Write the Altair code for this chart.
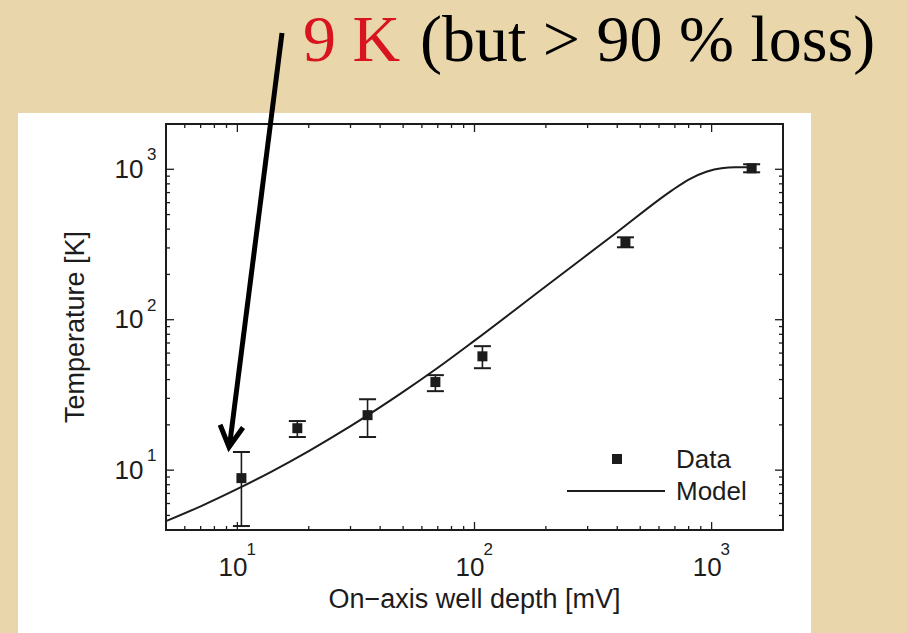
import altair as alt
import pandas as pd

# ---------------- data ----------------
depth_mV = [10.4, 17.9, 35.4, 68.4, 108, 433, 1475]
temp_K = [8.85, 19.0, 23.2, 38.5, 57.1, 327, 1015]
temp_lo = [4.25, 16.6, 16.6, 33.5, 47.6, 303, 955]
temp_hi = [13.2, 21.2, 29.6, 42.8, 66.7, 353, 1080]

model_depth = [5, 7, 10, 14, 20, 30, 50, 70, 100, 200, 400, 676, 800, 950, 1100, 1260, 1500]
model_temp = [4.58, 5.75, 7.5, 9.83, 13.4, 19.6, 33.1, 47.9, 72.6, 167, 383, 719, 855, 964,
              1017, 1030, 1030]

major_ticks = [10, 100, 1000]
exponents = ["1", "2", "3"]
x_minor = [6, 7, 8, 9, 20, 30, 40, 50, 60, 70, 80, 90,
           200, 300, 400, 500, 600, 700, 800, 900]
y_minor = [5, 6, 7, 8, 9, 20, 30, 40, 50, 60, 70, 80, 90,
           200, 300, 400, 500, 600, 700, 800, 900]

legend_labels = ["Data", "Model"]
title_red = "9 K"
title_black = "(but > 90 % loss)"
x_title = "On\u2212axis well depth [mV]"
y_title = "Temperature [K]"

# ---------------- styling ----------------
W, H = 617, 406
FONT = "Liberation Sans"
SERIF = "Liberation Serif"
INK = "#1c1c1c"
PARCHMENT = "#e9d7ab"

xs = alt.Scale(type="log", domain=[5, 2000], nice=False)
ys = alt.Scale(type="log", domain=[4, 2000], nice=False)

xaxis = alt.Axis(values=major_ticks, labelExpr="'10'", ticks=False, tickSize=0,
                 domain=False, grid=False, labelFont=FONT, labelFontSize=26,
                 labelColor=INK, labelPadding=24, labelOffset=-5, title=None,
                 zindex=2)
yaxis = alt.Axis(values=major_ticks, labelExpr="'10'", ticks=False, tickSize=0,
                 domain=False, grid=False, labelFont=FONT, labelFontSize=26,
                 labelColor=INK, labelPadding=23, title=None, zindex=2)


def X(f):
    return alt.X(f, type="quantitative", scale=xs, axis=xaxis)


def Y(f):
    return alt.Y(f, type="quantitative", scale=ys, axis=yaxis)


pts = pd.DataFrame({"depth": depth_mV, "temp": temp_K, "lo": temp_lo, "hi": temp_hi})
model = pd.DataFrame({"depth": model_depth, "temp": model_temp})
one = pd.DataFrame({"k": [0]})
maj = pd.DataFrame({"v": major_ticks, "e": exponents})
xmin_df = pd.DataFrame({"v": x_minor})
ymin_df = pd.DataFrame({"v": y_minor})

layers = []

# white panel behind the figure
layers.append(alt.Chart(one).mark_rect(color="white").encode(
    x=alt.value(-148), x2=alt.value(645), y=alt.value(-11), y2=alt.value(H + 110)))


# inward ticks on all four sides
def xticks(df, L):
    b = alt.Chart(df).mark_rule(color=INK, strokeWidth=1.3).encode(
        x=X("v"), y=alt.value(H), y2=alt.value(H - L))
    t = alt.Chart(df).mark_rule(color=INK, strokeWidth=1.3).encode(
        x=X("v"), y=alt.value(0), y2=alt.value(L))
    return [b, t]


def yticks(df, L):
    l = alt.Chart(df).mark_rule(color=INK, strokeWidth=1.3).encode(
        y=Y("v"), x=alt.value(0), x2=alt.value(L))
    r = alt.Chart(df).mark_rule(color=INK, strokeWidth=1.3).encode(
        y=Y("v"), x=alt.value(W), x2=alt.value(W - L))
    return [l, r]


layers += xticks(maj, 8) + xticks(xmin_df, 4) + yticks(maj, 8) + yticks(ymin_df, 4)

# exponents of the tick labels
layers.append(alt.Chart(maj).mark_text(align="left", baseline="top", dx=9, font=FONT,
                                       fontSize=17, color=INK).encode(
    x=X("v"), y=alt.value(H + 12), text="e:N"))
layers.append(alt.Chart(maj).mark_text(align="left", baseline="top", dy=-22, font=FONT,
                                       fontSize=17, color=INK).encode(
    y=Y("v"), x=alt.value(-19), text="e:N"))

# axis titles
layers.append(alt.Chart(one).mark_text(text=x_title, font=FONT, fontSize=27, color=INK,
                                       align="center", baseline="middle").encode(
    x=alt.value(W / 2), y=alt.value(476)))
layers.append(alt.Chart(one).mark_text(text=y_title, font=FONT, fontSize=27, color=INK,
                                       align="center", baseline="middle", angle=270).encode(
    x=alt.value(-90), y=alt.value(203)))

# model curve
layers.append(alt.Chart(model).mark_line(color=INK, strokeWidth=2, interpolate="monotone").encode(
    x=X("depth"), y=Y("temp")))

# error bars + caps + squares
layers.append(alt.Chart(pts).mark_rule(color=INK, strokeWidth=1.6).encode(
    x=X("depth"), y=Y("lo"), y2=alt.Y2("hi")))
for f in ["lo", "hi"]:
    layers.append(alt.Chart(pts).mark_point(shape="stroke", size=289, strokeWidth=2,
                                            color=INK, opacity=1).encode(
        x=X("depth"), y=Y(f)))
layers.append(alt.Chart(pts).mark_square(size=100, color=INK, opacity=1).encode(
    x=X("depth"), y=Y("temp")))

# legend
layers.append(alt.Chart(one).mark_square(size=100, color=INK, opacity=1).encode(
    x=alt.value(451), y=alt.value(335)))
layers.append(alt.Chart(one).mark_rule(color=INK, strokeWidth=2).encode(
    x=alt.value(401), x2=alt.value(499), y=alt.value(367)))
layers.append(alt.Chart(one).mark_text(text=legend_labels[0], font=FONT, fontSize=26,
                                       color=INK, align="left", baseline="middle").encode(
    x=alt.value(510), y=alt.value(336)))
layers.append(alt.Chart(one).mark_text(text=legend_labels[1], font=FONT, fontSize=26,
                                       color=INK, align="left", baseline="middle").encode(
    x=alt.value(510), y=alt.value(368)))

# frame
layers.append(alt.Chart(one).mark_rect(filled=False, stroke=INK, strokeWidth=2).encode(
    x=alt.value(0), x2=alt.value(W), y=alt.value(0), y2=alt.value(H)))

# slide title
layers.append(alt.Chart(one).mark_text(text=title_red, font=SERIF, fontSize=66,
                                       color="#d8141e", align="left",
                                       baseline="alphabetic").encode(
    x=alt.value(137), y=alt.value(-63)))
layers.append(alt.Chart(one).mark_text(text=title_black, font=SERIF, fontSize=66,
                                       color="black", align="left",
                                       baseline="alphabetic").encode(
    x=alt.value(254), y=alt.value(-63)))

# arrow
layers.append(alt.Chart(one).mark_rule(color="black", strokeWidth=5).encode(
    x=alt.value(116), y=alt.value(-91), x2=alt.value(64), y2=alt.value(318)))
layers.append(alt.Chart(one).mark_point(shape="M-0.55,-1L0,0L0.55,-1", size=1764, angle=7,
                                        strokeWidth=5, color="black", filled=False,
                                        opacity=1, strokeJoin="miter").encode(
    x=alt.value(63), y=alt.value(323)))

chart = alt.layer(*layers).properties(
    width=W, height=H,
    autosize=alt.AutoSizeParams(type="none"),
    padding={"left": 166, "top": 124, "right": 124, "bottom": 103},
    background=PARCHMENT,
).configure_view(strokeWidth=0)

chart.save("out.html", embed_options={"renderer": "svg", "actions": False})
